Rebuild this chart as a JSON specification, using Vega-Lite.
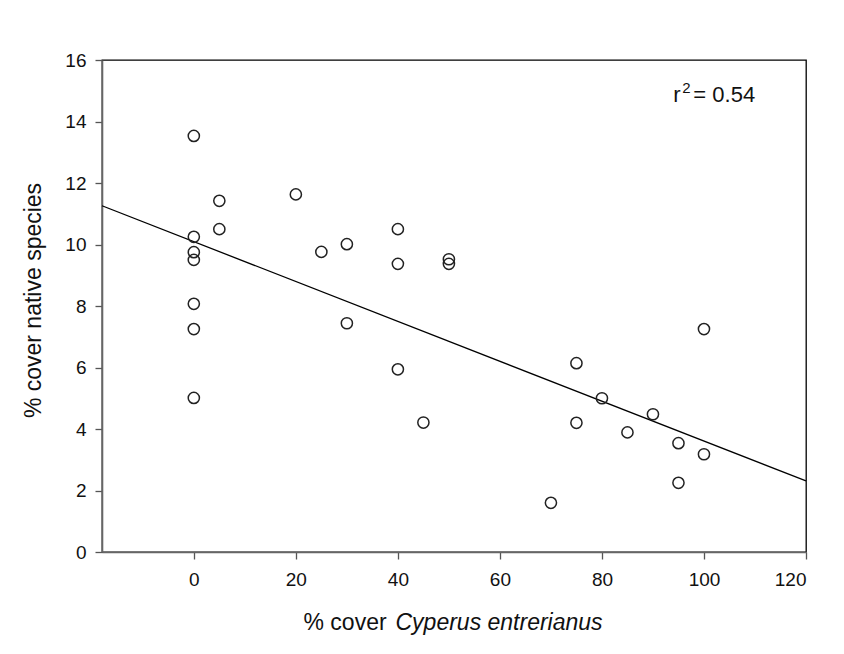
{
  "$schema": "https://vega.github.io/schema/vega-lite/v6.json",
  "width": 704,
  "height": 492,
  "autosize": {"type": "none"},
  "padding": {"left": 102, "top": 60, "right": 38, "bottom": 102},
  "background": "white",
  "config": {
    "font": "Liberation Sans",
    "view": {"stroke": "#000", "strokeWidth": 1.3},
    "axis": {
      "grid": false,
      "domainColor": "#666",
      "domainWidth": 1.6,
      "tickColor": "#555",
      "tickWidth": 1.3,
      "tickSize": 7,
      "labelFont": "Liberation Sans",
      "labelFontSize": 19,
      "labelColor": "#111",
      "titleFont": "Liberation Sans",
      "titleFontSize": 23,
      "titleFontWeight": "normal",
      "titleColor": "#111"
    }
  },
  "resolve": {"axis": {"x": "independent"}},
  "layer": [
    {
      "data": {"values": [{"x": -18, "y": 11.26}, {"x": 120, "y": 2.31}]},
      "mark": {"type": "line", "color": "#000", "strokeWidth": 1.3},
      "encoding": {
        "x": {
          "field": "x", "type": "quantitative",
          "scale": {"domain": [-18, 120], "nice": false, "zero": false},
          "axis": {
            "orient": "bottom", "domain": false, "ticks": false, "labels": false,
            "title": "Cyperus entrerianus", "titleFontStyle": "italic",
            "titleX": 293, "titleY": 70, "titleAlign": "left", "titleBaseline": "middle"
          }
        },
        "y": {
          "field": "y", "type": "quantitative",
          "scale": {"domain": [0, 16], "nice": false},
          "axis": {
            "title": "% cover native species", "values": [0, 2, 4, 6, 8, 10, 12, 14, 16],
            "labelPadding": 9, "titleX": -69, "titleY": 240, "titleBaseline": "middle"
          }
        }
      }
    },
    {
      "data": {"values": [
        {"x": 0, "y": 13.53}, {"x": 0, "y": 10.25}, {"x": 0, "y": 9.75}, {"x": 0, "y": 9.5},
        {"x": 0, "y": 8.07}, {"x": 0, "y": 7.25}, {"x": 0, "y": 5.01},
        {"x": 5, "y": 11.42}, {"x": 5, "y": 10.5}, {"x": 20, "y": 11.63}, {"x": 25, "y": 9.76},
        {"x": 30, "y": 10.01}, {"x": 30, "y": 7.44}, {"x": 40, "y": 10.5}, {"x": 40, "y": 9.37},
        {"x": 40, "y": 5.94}, {"x": 45, "y": 4.21}, {"x": 50, "y": 9.52}, {"x": 50, "y": 9.37},
        {"x": 70, "y": 1.6}, {"x": 75, "y": 6.14}, {"x": 75, "y": 4.2}, {"x": 80, "y": 5.0},
        {"x": 85, "y": 3.89}, {"x": 90, "y": 4.48}, {"x": 95, "y": 3.54}, {"x": 95, "y": 2.25},
        {"x": 100, "y": 7.25}, {"x": 100, "y": 3.18}
      ]},
      "mark": {"type": "point", "shape": "circle", "filled": false, "color": "#222", "strokeWidth": 1.5, "size": 125, "opacity": 1},
      "encoding": {
        "x": {
          "field": "x", "type": "quantitative",
          "scale": {"domain": [-18, 120], "nice": false, "zero": false},
          "axis": {
            "orient": "bottom", "values": [0, 20, 40, 60, 80, 100, 120], "labelPadding": 11,
            "title": "% cover", "titleX": 201, "titleY": 70, "titleAlign": "left", "titleBaseline": "middle"
          }
        },
        "y": {
          "field": "y", "type": "quantitative",
          "scale": {"domain": [0, 16], "nice": false},
          "axis": {
            "title": "% cover native species", "values": [0, 2, 4, 6, 8, 10, 12, 14, 16],
            "labelPadding": 9, "titleX": -69, "titleY": 240, "titleBaseline": "middle"
          }
        }
      }
    },
    {
      "data": {"values": [{"x": 94, "y": 14.86}]},
      "encoding": {
        "x": {"field": "x", "type": "quantitative", "scale": {"domain": [-18, 120], "nice": false, "zero": false}, "axis": null},
        "y": {
          "field": "y", "type": "quantitative",
          "scale": {"domain": [0, 16], "nice": false},
          "axis": {
            "title": "% cover native species", "values": [0, 2, 4, 6, 8, 10, 12, 14, 16],
            "labelPadding": 9, "titleX": -69, "titleY": 240, "titleBaseline": "middle"
          }
        }
      },
      "layer": [
        {"mark": {"type": "text", "text": "r", "align": "left", "baseline": "middle", "fontSize": 22, "color": "#111", "font": "Liberation Sans"}},
        {"mark": {"type": "text", "text": "2", "align": "left", "baseline": "middle", "dx": 9, "dy": -7, "fontSize": 15, "color": "#111", "font": "Liberation Sans"}},
        {"mark": {"type": "text", "text": "= 0.54", "align": "left", "baseline": "middle", "dx": 20, "fontSize": 22, "color": "#111", "font": "Liberation Sans"}}
      ]
    }
  ]
}
